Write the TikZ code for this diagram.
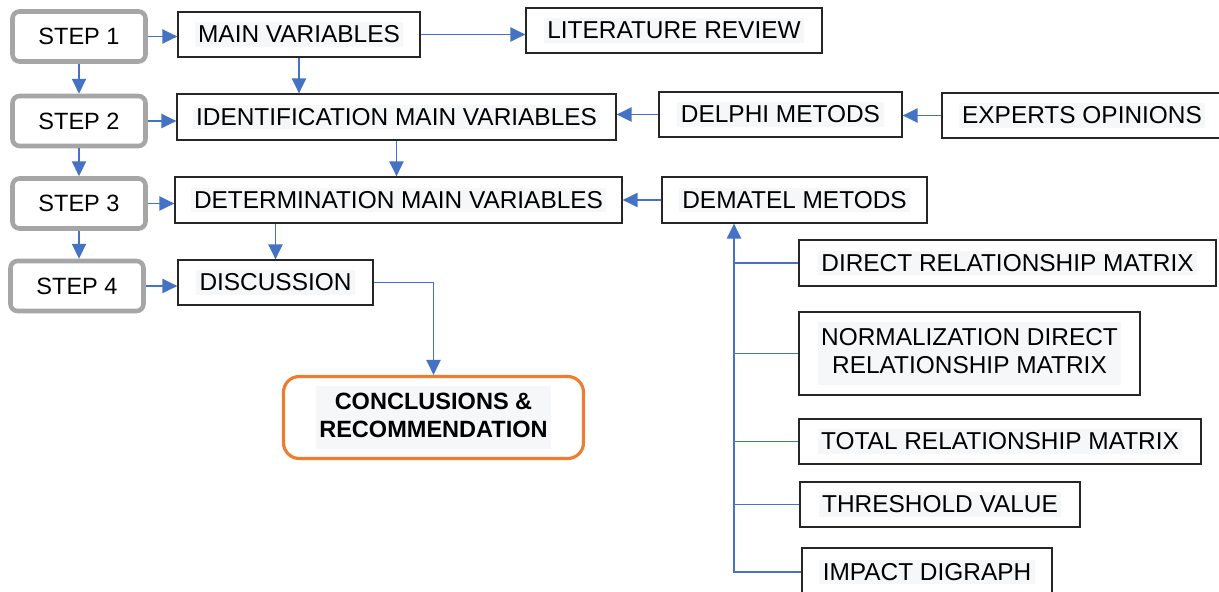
\documentclass[tikz,border=0pt]{standalone}
\usepackage{fontspec}
\setmainfont{Liberation Sans}
\usetikzlibrary{arrows.meta}
\definecolor{linkblue}{HTML}{4472C4}
\definecolor{stepgray}{HTML}{A6A6A6}
\definecolor{endorange}{HTML}{ED7D31}
\definecolor{hlgray}{HTML}{F6F7F9}
\newcommand{\hlbox}[1]{{\setlength{\fboxsep}{2pt}\colorbox{hlgray}{#1}}}

\begin{document}
\begin{tikzpicture}[x=0.02cm, y=-0.02cm,
  font=\fontsize{13.9pt}{16pt}\selectfont,
  every node/.style={inner sep=0pt},
  stepbox/.style={draw=stepgray, line width=2.6pt, rounded corners=4pt,
    fill=white, minimum width=133*0.02cm, minimum height=50*0.02cm,
    font=\fontsize{13.4pt}{16pt}\selectfont},
  varbox/.style 2 args={draw=black!85, line width=0.7pt, fill=white,
    minimum width=#1*0.02cm, minimum height=#2*0.02cm},
  endbox/.style={draw=endorange, line width=1.8pt, rounded corners=9pt, fill=white,
    minimum width=300*0.02cm, minimum height=82*0.02cm,
    font=\fontsize{13.4pt}{16pt}\selectfont\bfseries},
  link/.style={draw=linkblue, line width=1.1pt, -{Triangle[length=8.5pt,width=8pt]}},
  branch/.style={draw=linkblue, line width=1.1pt}]
  \useasboundingbox (0,0) rectangle (1219,591);

  % --- Steps column ---
  \node[stepbox] (s1) at (79,36.5)  {STEP 1};
  \node[stepbox] (s2) at (79,121)   {STEP 2};
  \node[stepbox] (s3) at (79,203.5) {STEP 3};
  \node[stepbox] (s4) at (77,286)   {STEP 4};

  \draw[link] (s1.south) -- (s2.north);
  \draw[link] (s2.south) -- (s3.north);
  \draw[link] (s3.south) -- (s3.south |- s4.north);

  % --- Main flow ---
  \node[varbox={242}{45}] (mainvar) at (299,34.5)  {\hlbox{MAIN VARIABLES}};
  \node[varbox={296}{45}] (litrev)  at (674,30.5)  {\hlbox{LITERATURE REVIEW}};
  \node[varbox={439}{46}] (ident)   at (396.5,117) {\hlbox{IDENTIFICATION MAIN VARIABLES}};
  \node[varbox={447}{46}] (determ)  at (398.5,200) {\hlbox{DETERMINATION MAIN VARIABLES}};
  \node[varbox={195}{45}] (discuss) at (275.5,282.5) {\hlbox{DISCUSSION}};
  \node[endbox] (concl) at (433.5,417.5)
    {\hlbox{\begin{tabular}{@{}c@{}}CONCLUSIONS \&\\RECOMMENDATION\end{tabular}}};

  \draw[link] (s1.east) -- (s1.east -| mainvar.west);
  \draw[link] (s2.east) -- (s2.east -| ident.west);
  \draw[link] (s3.east) -- (s3.east -| determ.west);
  \draw[link] (s4.east) -- (s4.east -| discuss.west);
  \draw[link] (mainvar.east) -- (mainvar.east -| litrev.west);
  \draw[link] (mainvar.south) -- (mainvar.south |- ident.north);
  \draw[link] (ident.south) -- (ident.south |- determ.north);
  \draw[link] (discuss.north |- determ.south) -- (discuss.north);
  \draw[link] (discuss.east) -| (concl.north);

  % --- Methods ---
  \node[varbox={243}{45}] (delphi)  at (780.5,114.5) {\hlbox{DELPHI METODS}};
  \node[varbox={280}{45}] (experts) at (1082,115.5)  {\hlbox{EXPERTS OPINIONS}};
  \node[varbox={265}{46}] (dematel) at (794.5,200)   {\hlbox{DEMATEL METODS}};

  \draw[link] (experts.west) -- (experts.west -| delphi.east);
  \draw[link] (delphi.west) -- (delphi.west -| ident.east);
  \draw[link] (dematel.west) -- (dematel.west -| determ.east);

  % --- DEMATEL steps ---
  \node[varbox={417}{46}] (direct) at (1007.5,263)  {\hlbox{DIRECT RELATIONSHIP MATRIX}};
  \node[varbox={341}{83}] (normal) at (969.5,353.5)
    {\hlbox{\begin{tabular}{@{}c@{}}NORMALIZATION DIRECT\\RELATIONSHIP MATRIX\end{tabular}}};
  \node[varbox={402}{45}] (total)  at (1000,441.5)  {\hlbox{TOTAL RELATIONSHIP MATRIX}};
  \node[varbox={280}{45}] (thresh) at (940,504.5)   {\hlbox{THRESHOLD VALUE}};
  \node[varbox={250}{48}] (impact) at (927,572)     {\hlbox{IMPACT DIGRAPH}};

  \coordinate (bus) at (734,0);
  \draw[link] (impact.west) -| (bus |- dematel.south);
  \foreach \b in {direct,normal,total,thresh}
    \draw[branch] (\b.west) -- (\b.west -| bus);
\end{tikzpicture}
\end{document}
